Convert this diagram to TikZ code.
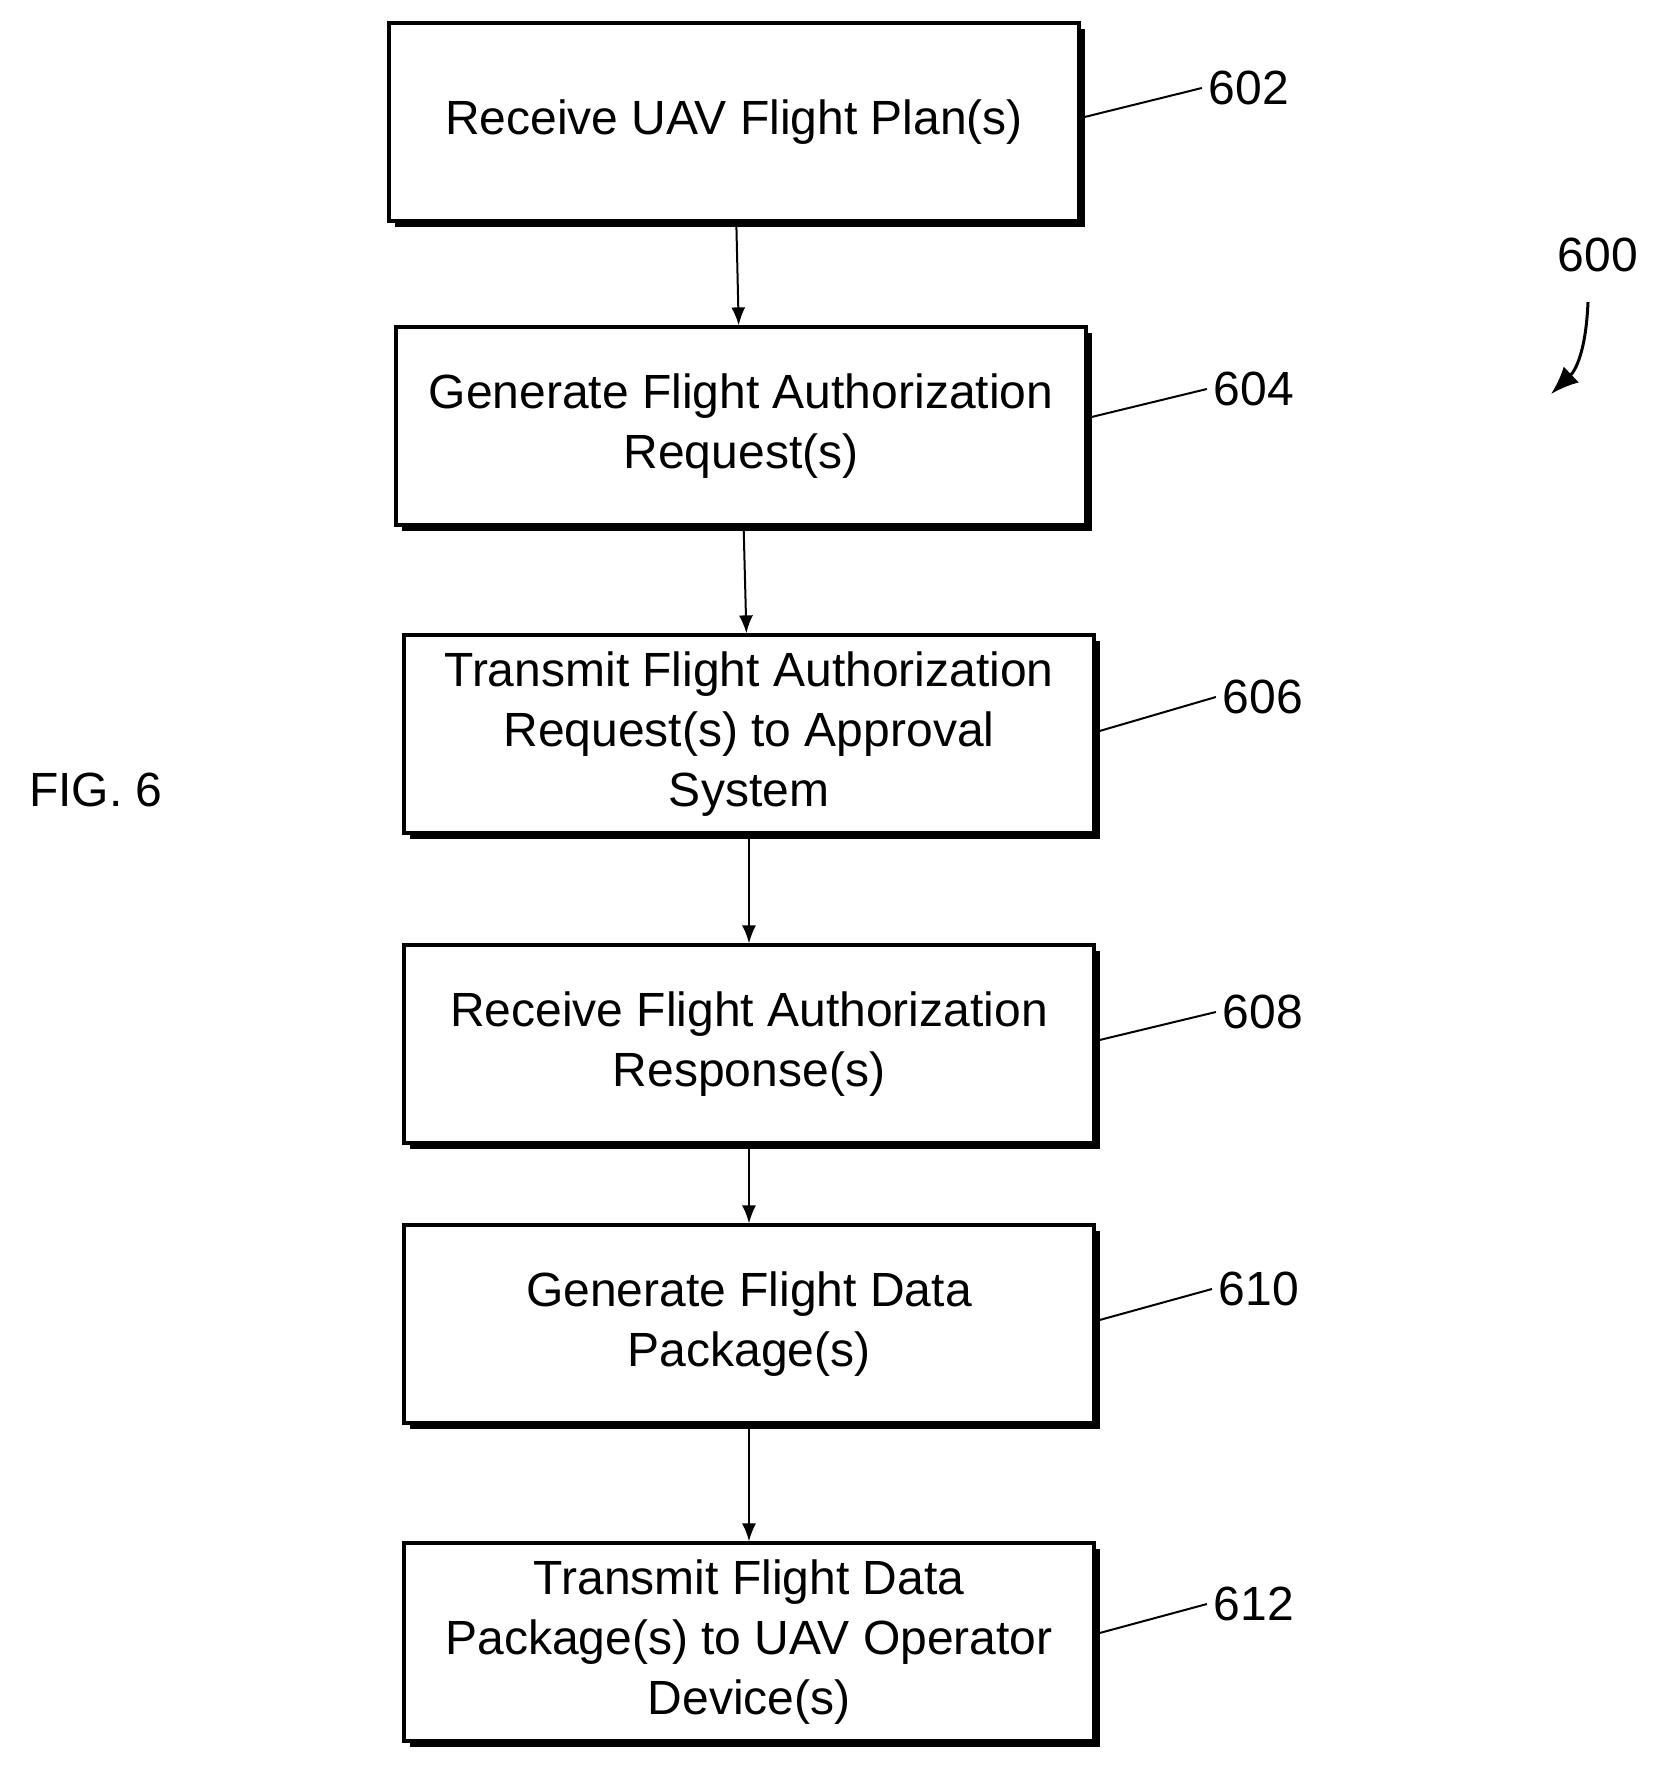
\documentclass[tikz,border=0pt]{standalone}
\usepackage{fontspec}
\setmainfont{Liberation Sans}
\usetikzlibrary{positioning}
\usetikzlibrary{arrows.meta}

\tikzset{
  stage/.style={draw,line width=1.6pt,fill=white,minimum width=345pt,minimum height=99pt,
    align=center,font=\fontsize{24}{30}\selectfont,
    preaction={fill=black,transform canvas={xshift=3pt,yshift=-3pt}}},
  tag/.style={font=\fontsize{24}{30}\selectfont},
  lead/.style={line width=1pt},
  flow/.style={-{Latex[length=9pt,width=7pt]},line width=1pt},
}

\begin{document}
\begin{tikzpicture}[x=0.5pt,y=-0.5pt]
				\useasboundingbox (0,0) rectangle (1659,1786);
				\node[stage](plan) at (734,122) {Receive UAV Flight Plan(s)};
				\node[stage](gen) at (741,426) {Generate Flight Authorization\\Request(s)};
				\node[stage](trans) at (749,734) {Transmit Flight Authorization\\Request(s) to Approval\\System};
				\node[stage](resp) at (749,1044) {Receive Flight Authorization\\Response(s)};
				\node[stage](pkg) at (749,1324) {Generate Flight Data\\Package(s)};
				\node[stage](send) at (749,1642) {Transmit Flight Data\\Package(s) to UAV Operator\\Device(s)};

				\node[tag](n602) at (1249,88) {602};
				\node[tag](n604) at (1254,389) {604};
				\node[tag](n606) at (1263,697) {606};
				\node[tag](n608) at (1263,1012) {608};
				\node[tag](n610) at (1259,1289) {610};
				\node[tag](n612) at (1254,1604) {612};
				\node[tag](n600) at (1598,255) {600};
				\node[tag](fig) at (96,790) {FIG. 6};

				\draw[flow] (plan) to (gen);
				\draw[flow] (gen) to (trans);
				\draw[flow] (trans) to (resp);
				\draw[flow] (resp) to (pkg);
				\draw[flow] (pkg) to (send);

				\draw[lead] (plan.east) ++(4,-5) to (n602.west);
				\draw[lead] (gen.east) ++(4,-9) to (n604.west);
				\draw[lead] (trans.east) ++(4,-3) to (n606.west);
				\draw[lead] (resp.east) ++(4,-4) to (n608.west);
				\draw[lead] (pkg.east) ++(4,-4) to (n610.west);
				\draw[lead] (send.east) ++(4,-9) to (n612.west);
				\draw[-{Latex[length=14pt,width=11pt]},line width=1.5pt] (1588,302) .. controls (1586,350) and (1576,370) .. (1551,394);
			\end{tikzpicture}
\end{document}
